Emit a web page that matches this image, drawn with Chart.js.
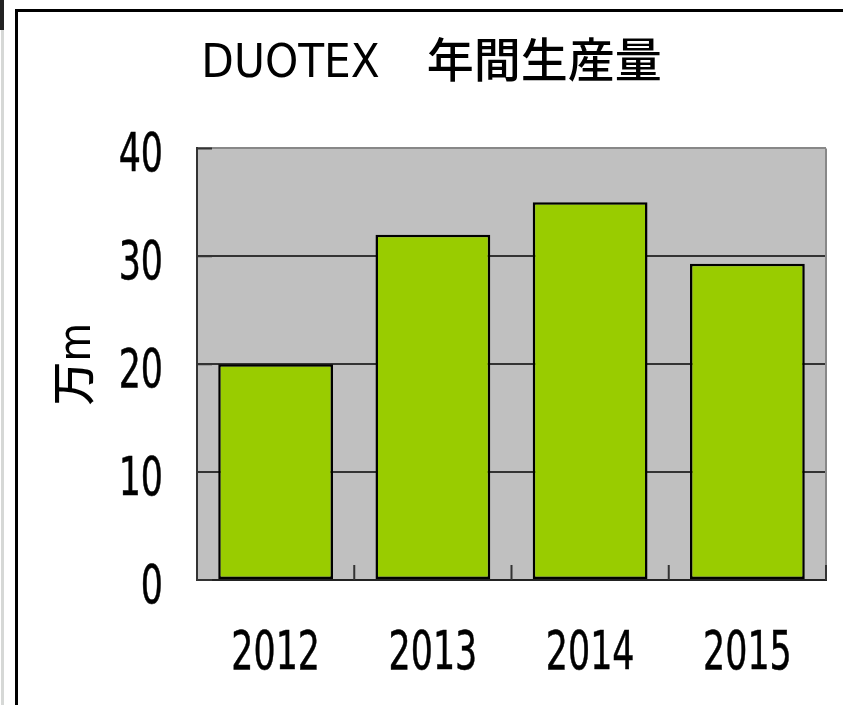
<!DOCTYPE html>
<html>
<head>
<meta charset="utf-8">
<script src="https://cdn.jsdelivr.net/npm/chart.js@4"></script>
<style>
  html, body { margin: 0; padding: 0; background: #fff; }
  body { width: 843px; height: 705px; position: relative; overflow: hidden; }
  #chart { position: absolute; left: 0; top: 0; }
  .frame { position: absolute; left: 15px; top: 9px; width: 900px; height: 800px;
           border-left: 3px solid #000; border-top: 3px solid #000; }
  .strip { position: absolute; left: 1px; top: 0; width: 3px; height: 705px; background: #d6d8d6; }
  .strip-top { position: absolute; left: 0; top: 0; width: 4px; height: 30px; background: #222; }
</style>
</head>
<body>
<div class="strip"></div>
<div class="strip-top"></div>
<div class="frame"></div>
<canvas id="chart" width="843" height="705"></canvas>
<script>
const years = ['2012', '2013', '2014', '2015'];
const output = [20, 32, 35, 29.3];
const yTicks = [0, 10, 20, 30, 40];

const FONT = "'DejaVu Sans Condensed', 'DejaVu Sans', 'Noto Sans CJK JP', sans-serif";
const NARROW = 0.73; // the original uses a narrow gothic face

// gray plot background, right border, inward tick marks and narrow tick labels
const plotDecor = {
  id: 'plotDecor',
  beforeDraw(chart) {
    const { ctx, chartArea: a } = chart;
    ctx.save();
    ctx.fillStyle = '#c0c0c0';
    ctx.fillRect(a.left, a.top, a.right - a.left, a.bottom - a.top);
    ctx.restore();
  },
  afterDraw(chart) {
    const { ctx, chartArea: a, scales } = chart;
    ctx.save();
    ctx.strokeStyle = '#888';
    ctx.lineWidth = 2;
    ctx.beginPath();
    ctx.moveTo(a.right, a.top);
    ctx.lineTo(a.right, a.bottom);
    ctx.stroke();

    ctx.strokeStyle = '#333';
    ctx.beginPath();
    yTicks.forEach(v => {
      const y = scales.y.getPixelForValue(v);
      ctx.moveTo(a.left, y);
      ctx.lineTo(a.left + 15, y);
    });
    for (let i = 0; i <= years.length; i++) {
      const x = scales.x.getPixelForValue(i - 0.5);
      ctx.moveTo(x, a.bottom);
      ctx.lineTo(x, a.bottom - 15);
    }
    ctx.stroke();

    ctx.fillStyle = '#000';
    ctx.strokeStyle = '#000';
    ctx.lineWidth = 0.5;
    ctx.font = '53px ' + FONT;
    ctx.textBaseline = 'alphabetic';
    const label = (txt, x, y) => {
      ctx.save();
      ctx.translate(x, y);
      ctx.scale(NARROW, 1);
      ctx.fillText(txt, 0, 0);
      ctx.strokeText(txt, 0, 0);
      ctx.restore();
    };
    ctx.textAlign = 'right';
    yTicks.forEach(v => label(String(v), a.left - 34, scales.y.getPixelForValue(v) + 23));
    ctx.textAlign = 'center';
    years.forEach((yr, i) => label(yr, scales.x.getPixelForValue(i), a.bottom + 89));
    ctx.restore();
  }
};

new Chart(document.getElementById('chart').getContext('2d'), {
  type: 'bar',
  data: {
    labels: years,
    datasets: [{
      data: output,
      backgroundColor: '#99cc00',
      borderColor: '#000',
      borderWidth: 2.5,
      borderSkipped: false,
      categoryPercentage: 1,
      barPercentage: 0.73
    }]
  },
  options: {
    responsive: false,
    animation: false,
    layout: { padding: { left: 37, right: 17, top: 0, bottom: 0 } },
    plugins: {
      legend: { display: false },
      tooltip: { enabled: false },
      title: {
        display: true,
        text: 'DUOTEX\u3000年間生産量',
        color: '#000',
        font: { family: FONT, size: 47, weight: '500' },
        padding: { top: 37, bottom: 55 }
      }
    },
    scales: {
      x: {
        grid: { display: false, drawTicks: false },
        border: { display: true, color: '#222', width: 2 },
        ticks: { display: false },
        afterFit(s) { s.height = 125; }
      },
      y: {
        min: 0,
        max: 40,
        afterBuildTicks(s) { s.ticks = yTicks.map(v => ({ value: v })); },
        grid: {
          drawTicks: false,
          lineWidth: 2,
          color: c => (c.tick && c.tick.value === 40 ? '#888' : '#333')
        },
        border: { display: true, color: '#333', width: 2 },
        ticks: { display: false },
        title: {
          display: true,
          text: '万m',
          color: '#000',
          font: { family: FONT, size: 44, weight: '500' },
          padding: { top: 15, bottom: 0 }
        },
        afterFit(s) { s.width = 160; }
      }
    }
  },
  plugins: [plotDecor]
});
</script>
</body>
</html>
